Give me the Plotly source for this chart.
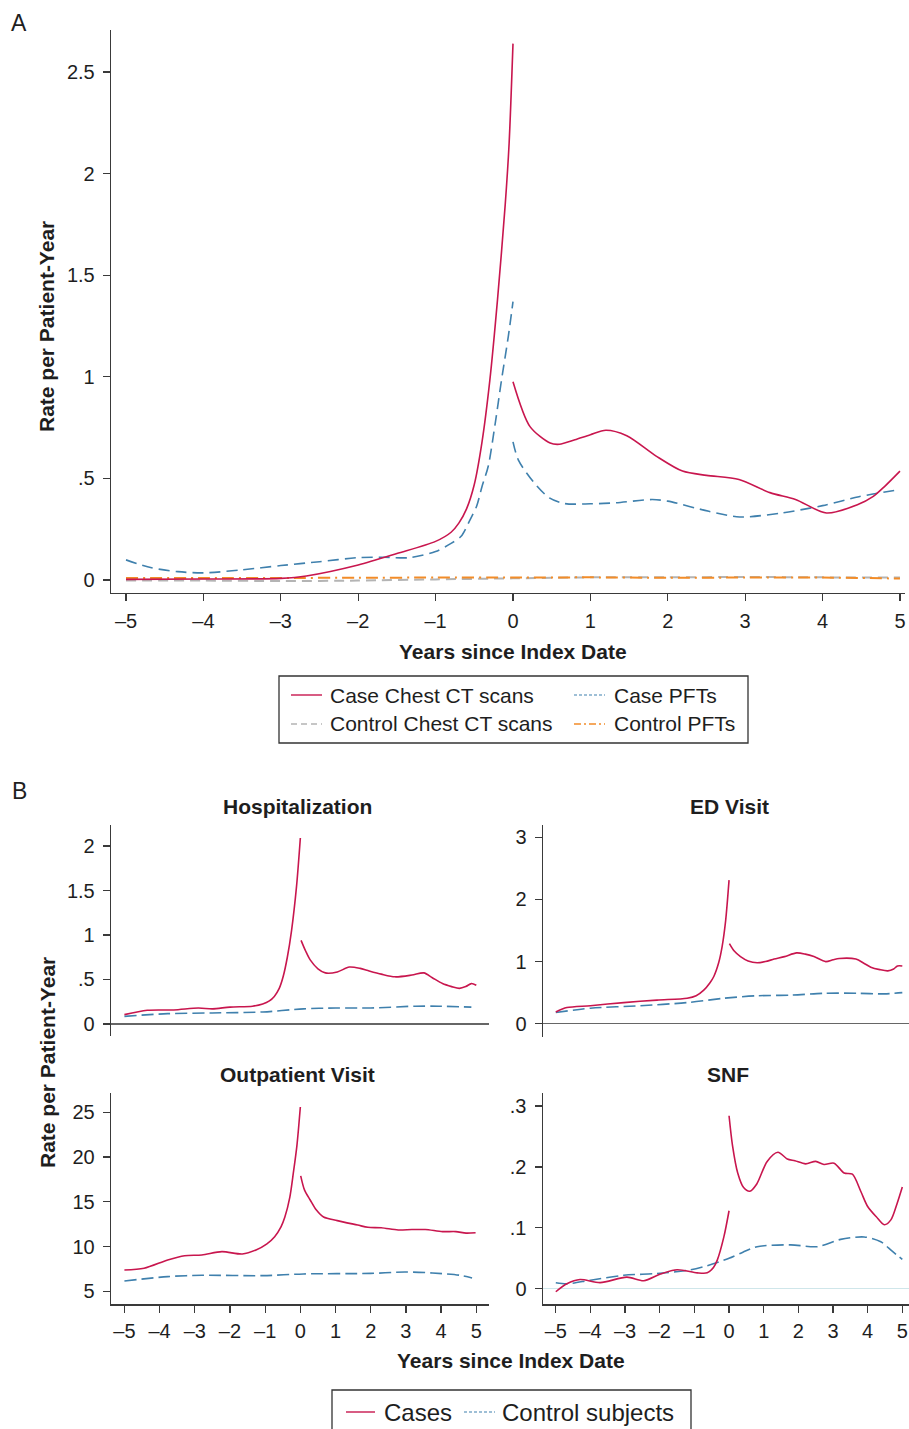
import plotly.graph_objects as go

W, H = 909, 1429
FONT = "Liberation Sans, Arial, Helvetica, sans-serif"
TXT = "#1e1e1e"
RED = "#c8164e"
BLUE = "#3f80ad"
GRAY = "#b4b4b4"
ORANGE = "#f28c28"

def px(x):
    return x / W

def py(y):
    return 1 - y / H

# ---------------- Panel A data ----------------
a_case_ct_pre_x = [-5, -4, -3, -2.67, -2.0, -1.5, -1.0, -0.8, -0.7, -0.6, -0.5, -0.4, -0.3, -0.2, -0.1, -0.05, 0]
a_case_ct_pre_y = [0.003, 0.005, 0.008, 0.02, 0.074, 0.13, 0.19, 0.235, 0.28, 0.35, 0.47, 0.68, 0.98, 1.38, 1.85, 2.15, 2.64]
a_case_ct_post_x = [0, 0.22, 0.48, 0.6, 0.8, 1.0, 1.2, 1.47, 1.85, 2.19, 2.5, 2.92, 3.32, 3.65, 4.05, 4.45, 4.65, 4.8, 5.0]
a_case_ct_post_y = [0.976, 0.755, 0.674, 0.668, 0.69, 0.715, 0.737, 0.71, 0.61, 0.536, 0.515, 0.495, 0.43, 0.396, 0.33, 0.37, 0.41, 0.46, 0.536]

a_case_pft_pre_x = [-5, -4.67, -4.33, -4.0, -3.5, -3.0, -2.5, -2.0, -1.67, -1.33, -1.0, -0.8, -0.67, -0.55, -0.47, -0.4, -0.32, -0.23, -0.15, -0.06, 0]
a_case_pft_pre_y = [0.099, 0.06, 0.041, 0.035, 0.05, 0.071, 0.09, 0.11, 0.112, 0.11, 0.14, 0.18, 0.215, 0.30, 0.363, 0.46, 0.56, 0.77, 0.98, 1.20, 1.37]
a_case_pft_post_x = [0, 0.07, 0.27, 0.47, 0.67, 1.0, 1.33, 1.8, 2.0, 2.53, 2.93, 3.47, 4.0, 4.47, 5.0]
a_case_pft_post_y = [0.68, 0.59, 0.48, 0.404, 0.376, 0.375, 0.38, 0.396, 0.388, 0.338, 0.31, 0.33, 0.366, 0.41, 0.445]

a_ctrl_ct_x = [-5, -4, -3, -2, -1, 0, 1, 2, 3, 4, 5]
a_ctrl_ct_y = [-0.003, -0.003, -0.005, -0.003, 0.003, 0.008, 0.013, 0.013, 0.015, 0.013, 0.012]
a_ctrl_pft_x = [-5, -4, -3, -2, -1, 0, 1, 2, 3, 4, 5]
a_ctrl_pft_y = [0.01, 0.01, 0.01, 0.011, 0.012, 0.012, 0.013, 0.011, 0.012, 0.012, 0.007]

# ---------------- Panel B data ----------------
hosp_case_pre_x = [-5, -4.35, -3.6, -2.9, -2.5, -2.0, -1.36, -1.07, -0.88, -0.74, -0.6, -0.49, -0.37, -0.25, -0.11, 0]
hosp_case_pre_y = [0.105, 0.154, 0.158, 0.18, 0.17, 0.19, 0.20, 0.225, 0.26, 0.31, 0.40, 0.53, 0.75, 1.05, 1.54, 2.09]
hosp_case_post_x = [0.02, 0.15, 0.28, 0.5, 0.71, 1.05, 1.39, 1.7, 1.92, 2.3, 2.69, 3.17, 3.51, 3.75, 4.04, 4.3, 4.52, 4.7, 4.86, 5.0]
hosp_case_post_y = [0.94, 0.82, 0.72, 0.62, 0.574, 0.585, 0.64, 0.625, 0.60, 0.56, 0.53, 0.55, 0.574, 0.52, 0.454, 0.42, 0.40, 0.42, 0.454, 0.435]
hosp_ctrl_x = [-5, -3.77, -2.51, -1.07, 0.09, 1.0, 2.0, 3.27, 3.94, 4.86]
hosp_ctrl_y = [0.086, 0.116, 0.124, 0.135, 0.17, 0.18, 0.18, 0.20, 0.20, 0.19]

ed_case_pre_x = [-5, -4.68, -4.0, -3.04, -2.08, -1.21, -0.95, -0.73, -0.55, -0.44, -0.3, -0.2, -0.1, 0]
ed_case_pre_y = [0.19, 0.26, 0.29, 0.34, 0.38, 0.41, 0.45, 0.54, 0.66, 0.76, 0.98, 1.24, 1.65, 2.31]
ed_case_post_x = [0.01, 0.15, 0.33, 0.55, 0.81, 1.05, 1.3, 1.6, 1.95, 2.2, 2.45, 2.79, 3.0, 3.18, 3.66, 3.9, 4.09, 4.35, 4.58, 4.75, 4.86, 5.0]
ed_case_post_y = [1.29, 1.17, 1.08, 1.01, 0.98, 1.0, 1.04, 1.08, 1.14, 1.12, 1.08, 1.0, 1.03, 1.05, 1.04, 0.97, 0.91, 0.87, 0.85, 0.88, 0.93, 0.93]
ed_ctrl_x = [-5, -4.0, -2.56, -1.21, -0.15, 0.81, 1.78, 2.74, 3.7, 4.48, 5.0]
ed_ctrl_y = [0.18, 0.25, 0.29, 0.34, 0.41, 0.45, 0.46, 0.49, 0.49, 0.48, 0.50]

out_case_pre_x = [-5, -4.44, -3.77, -3.29, -2.8, -2.23, -1.65, -1.26, -0.95, -0.73, -0.55, -0.44, -0.3, -0.2, -0.1, 0]
out_case_pre_y = [7.38, 7.57, 8.5, 8.98, 9.06, 9.43, 9.17, 9.62, 10.3, 11.1, 12.2, 13.3, 15.5, 18.2, 21.2, 25.6]
out_case_post_x = [0.01, 0.12, 0.28, 0.45, 0.66, 1.05, 1.63, 1.92, 2.3, 2.78, 3.17, 3.55, 4.04, 4.42, 4.71, 4.98]
out_case_post_y = [17.9, 16.3, 15.2, 14.1, 13.3, 12.9, 12.4, 12.15, 12.1, 11.85, 11.9, 11.9, 11.67, 11.67, 11.5, 11.55]
out_ctrl_x = [-5, -3.77, -2.8, -1.07, 0.09, 2.0, 2.97, 3.75, 4.52, 4.88]
out_ctrl_y = [6.15, 6.64, 6.79, 6.75, 6.94, 7.0, 7.16, 7.05, 6.8, 6.49]

snf_case_pre_x = [-5, -4.68, -4.3, -3.72, -2.95, -2.46, -1.98, -1.5, -0.92, -0.63, -0.45, -0.34, -0.15, 0]
snf_case_pre_y = [-0.005, 0.008, 0.015, 0.010, 0.019, 0.013, 0.024, 0.031, 0.026, 0.026, 0.035, 0.047, 0.085, 0.128]
snf_case_post_x = [0, 0.1, 0.25, 0.42, 0.6, 0.8, 1.1, 1.41, 1.68, 1.9, 2.21, 2.5, 2.74, 3.03, 3.32, 3.56, 3.8, 4.0, 4.25, 4.48, 4.67, 4.85, 5.0]
snf_case_post_y = [0.284, 0.235, 0.19, 0.166, 0.16, 0.172, 0.209, 0.224, 0.213, 0.21, 0.205, 0.209, 0.204, 0.206, 0.19, 0.188, 0.16, 0.135, 0.118, 0.105, 0.113, 0.14, 0.167]
snf_ctrl_x = [-5, -4.68, -4.0, -3.04, -2.08, -1.11, -0.5, 0, 0.4, 0.81, 1.78, 2.55, 3.22, 3.9, 4.38, 4.7, 5.0]
snf_ctrl_y = [0.0099, 0.008, 0.014, 0.022, 0.025, 0.031, 0.04, 0.05, 0.06, 0.069, 0.072, 0.069, 0.081, 0.085, 0.077, 0.062, 0.048]

x_ticks = [-5, -4, -3, -2, -1, 0, 1, 2, 3, 4, 5]
x_ticktext = ["\u20135", "\u20134", "\u20133", "\u20132", "\u20131", "0", "1", "2", "3", "4", "5"]

a_yticks = [0, 0.5, 1, 1.5, 2, 2.5]
a_yticktext = ["0", ".5", "1", "1.5", "2", "2.5"]
hosp_yticks = [0, 0.5, 1, 1.5, 2]
hosp_yticktext = ["0", ".5", "1", "1.5", "2"]
ed_yticks = [0, 1, 2, 3]
ed_yticktext = ["0", "1", "2", "3"]
out_yticks = [5, 10, 15, 20, 25]
out_yticktext = ["5", "10", "15", "20", "25"]
snf_yticks = [0, 0.1, 0.2, 0.3]
snf_yticktext = ["0", ".1", ".2", ".3"]

legend_a_labels = ["Case Chest CT scans", "Case PFTs", "Control Chest CT scans", "Control PFTs"]
legend_b_labels = ["Cases", "Control subjects"]
panel_b_titles = ["Hospitalization", "ED Visit", "Outpatient Visit", "SNF"]
x_title = "Years since Index Date"
y_title = "Rate per Patient-Year"

fig = go.Figure()

def seg(pre_x, pre_y, post_x=None, post_y=None):
    if post_x is None:
        return list(pre_x), list(pre_y)
    return list(pre_x) + [None] + list(post_x), list(pre_y) + [None] + list(post_y)

def add(xs, ys, color, dash, ax, width=1.6):
    xa = "x" if ax == 1 else f"x{ax}"
    ya = "y" if ax == 1 else f"y{ax}"
    fig.add_trace(go.Scatter(x=xs, y=ys, mode="lines", showlegend=False,
                             connectgaps=False, hoverinfo="skip",
                             line=dict(color=color, width=width, dash=dash, shape="spline", smoothing=0.8),
                             xaxis=xa, yaxis=ya))

CTRL_DASH = "12px,5px"
# Panel A
add(*seg(a_ctrl_ct_x, a_ctrl_ct_y), GRAY, "10px,6px", 1, 2)
add(*seg(a_ctrl_pft_x, a_ctrl_pft_y), ORANGE, "12px,5px,2px,5px", 1, 2)
add(*seg(a_case_pft_pre_x, a_case_pft_pre_y, a_case_pft_post_x, a_case_pft_post_y), BLUE, "11px,6px", 1)
add(*seg(a_case_ct_pre_x, a_case_ct_pre_y, a_case_ct_post_x, a_case_ct_post_y), RED, "solid", 1)

# Panel B
add(*seg(hosp_ctrl_x, hosp_ctrl_y), BLUE, CTRL_DASH, 2)
add(*seg(hosp_case_pre_x, hosp_case_pre_y, hosp_case_post_x, hosp_case_post_y), RED, "solid", 2)
add(*seg(ed_ctrl_x, ed_ctrl_y), BLUE, CTRL_DASH, 3)
add(*seg(ed_case_pre_x, ed_case_pre_y, ed_case_post_x, ed_case_post_y), RED, "solid", 3)
add(*seg(out_ctrl_x, out_ctrl_y), BLUE, CTRL_DASH, 4)
add(*seg(out_case_pre_x, out_case_pre_y, out_case_post_x, out_case_post_y), RED, "solid", 4)
add(*seg(snf_ctrl_x, snf_ctrl_y), BLUE, CTRL_DASH, 5)
add(*seg(snf_case_pre_x, snf_case_pre_y, snf_case_post_x, snf_case_post_y), RED, "solid", 5)

AXC = "#3a3a3a"
tickfont = dict(family=FONT, size=20, color=TXT)

def xax(dom, rng, anchor, visible=True, standoff=3):
    return dict(domain=[px(dom[0]), px(dom[1])], range=rng, anchor=anchor, visible=visible,
                showline=True, linecolor=AXC, linewidth=1.3, ticks="outside", ticklen=7,
                tickwidth=1.3, tickcolor=AXC, showgrid=False, zeroline=False, ticklabelstandoff=standoff,
                tickvals=x_ticks, ticktext=x_ticktext, tickfont=tickfont, fixedrange=True)

def yax(dom, rng, anchor, tv, tt, zl=False, zlc=AXC, zlw=1.3):
    return dict(domain=[py(dom[1]), py(dom[0])], range=rng, anchor=anchor,
                showline=True, linecolor=AXC, linewidth=1.3, ticks="outside", ticklen=7,
                tickwidth=1.3, tickcolor=AXC, showgrid=False, zeroline=zl,
                zerolinecolor=zlc, zerolinewidth=zlw, ticklabelstandoff=4,
                tickvals=tv, ticktext=tt, tickfont=tickfont, fixedrange=True)

fig.update_layout(
    width=W, height=H, margin=dict(l=0, r=0, t=0, b=0),
    paper_bgcolor="white", plot_bgcolor="white", showlegend=False,
    font=dict(family=FONT, color=TXT),
    xaxis=xax((111, 905), [-5.194, 5.065], "y"),
    yaxis=yax((30, 593), [-0.064, 2.707], "x", a_yticks, a_yticktext),
    xaxis2=xax((111, 489), [-5.381, 5.361], "y2", visible=False),
    yaxis2=yax((825, 1036), [-0.135, 2.236], "x2", hosp_yticks, hosp_yticktext, zl=True, zlc="#666"),
    xaxis3=xax((542.8, 909), [-5.375, 5.193], "y3", visible=False),
    yaxis3=yax((825, 1036.7), [-0.209, 3.198], "x3", ed_yticks, ed_yticktext, zl=True, zlc="#666"),
    xaxis4=xax((111, 489), [-5.381, 5.361], "y4", standoff=1),
    yaxis4=yax((1093, 1304.3), [3.547, 27.16], "x4", out_yticks, out_yticktext),
    xaxis5=xax((542.8, 909), [-5.375, 5.193], "y5", standoff=1),
    yaxis5=yax((1093, 1304.3), [-0.0256, 0.3213], "x5", snf_yticks, snf_yticktext, zl=True, zlc="#cfe6ea", zlw=1),
)

ann = []
def text(x, y, s, size=21, bold=False, angle=0, xanchor="center"):
    ann.append(dict(x=px(x), y=py(y), xref="paper", yref="paper", text=(f"<b>{s}</b>" if bold else s),
                    showarrow=False, xanchor=xanchor, yanchor="middle", textangle=angle,
                    font=dict(family=FONT, size=size, color=TXT)))

text(19, 23, "A", size=23)
text(19, 791, "B", size=23)
text(513, 651, x_title, bold=True)
text(47, 327, y_title, bold=True, angle=-90)
text(511, 1360, x_title, bold=True)
text(47, 1063, y_title, bold=True, angle=-90)
text(297, 806, panel_b_titles[0], bold=True)
text(729, 806, panel_b_titles[1], bold=True)
text(297, 1074, panel_b_titles[2], bold=True)
text(728, 1074, panel_b_titles[3], bold=True)

# Legend A
text(328, 695, legend_a_labels[0], xanchor="left")
text(612, 695, legend_a_labels[1], xanchor="left")
text(328, 724, legend_a_labels[2], xanchor="left")
text(612, 724, legend_a_labels[3], xanchor="left")
# Legend B
text(382, 1412, legend_b_labels[0], size=24, xanchor="left")
text(500, 1412, legend_b_labels[1], size=24, xanchor="left")

shapes = []
def box(x0, y0, x1, y1):
    shapes.append(dict(type="rect", xref="paper", yref="paper", x0=px(x0), x1=px(x1), y0=py(y1), y1=py(y0),
                       line=dict(color="#333", width=1.3), fillcolor="rgba(0,0,0,0)"))

def sample(x0, x1, y, color, dash, width=1.4):
    shapes.append(dict(type="line", xref="paper", yref="paper", x0=px(x0), x1=px(x1), y0=py(y), y1=py(y),
                       line=dict(color=color, width=width, dash=dash)))

box(279, 676, 748, 743)
sample(291, 322, 695, RED, "solid")
sample(574, 605, 695, BLUE, "3px,2px", 1.2)
sample(291, 322, 724, GRAY, "6px,4px")
sample(574, 605, 724, ORANGE, "7px,3px,2px,3px")

box(332, 1390, 691, 1440)
sample(346, 375, 1412, RED, "solid")
sample(464, 495, 1412, BLUE, "3px,2px", 1.2)

fig.update_layout(annotations=ann, shapes=shapes)
fig.write_html("out.html", config={"displayModeBar": False, "staticPlot": True},
               post_script="document.body.style.margin='0px';document.body.style.overflow='hidden';")
